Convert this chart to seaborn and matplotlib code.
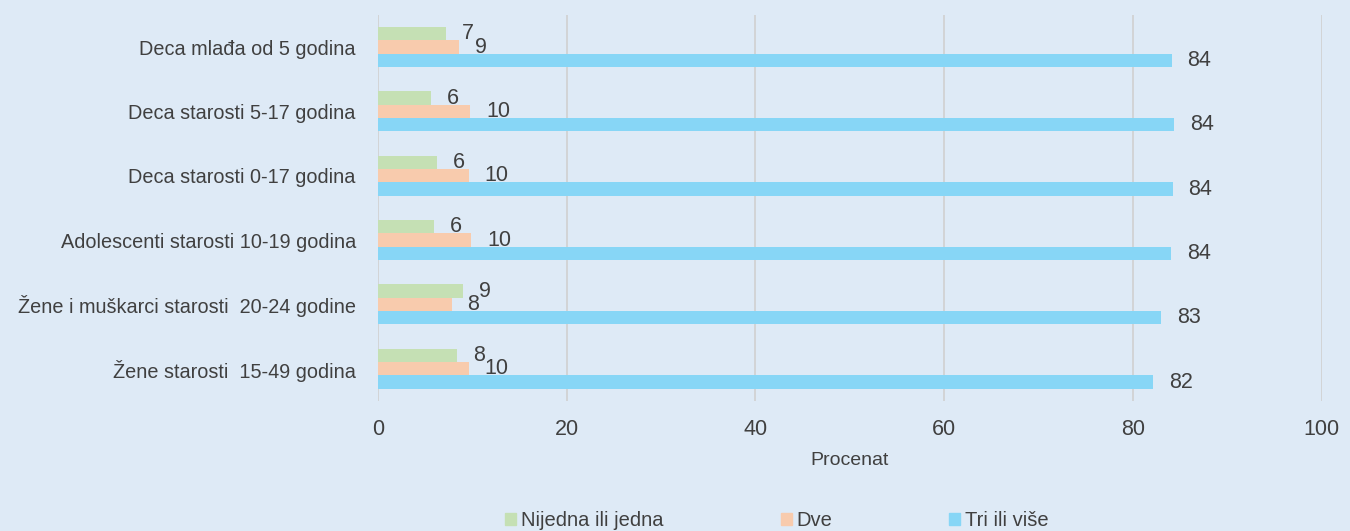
import pandas as pd
import matplotlib.pyplot as plt
import seaborn as sns

categories = [
    "Deca mlađa od 5 godina",
    "Deca starosti 5-17 godina",
    "Deca starosti 0-17 godina",
    "Adolescenti starosti 10-19 godina",
    "Žene i muškarci starosti  20-24 godine",
    "Žene starosti  15-49 godina",
]
series = ["Nijedna ili jedna", "Dve", "Tri ili više"]
nijedna = [7.2, 5.6, 6.25, 5.9, 9.0, 8.4]
dve = [8.6, 9.8, 9.6, 9.85, 7.8, 9.6]
tri = [84.1, 84.4, 84.2, 84.05, 83.0, 82.1]
colors = ["#C5E0B4", "#F8CBAD", "#87D6F6"]

bg = "#DEEAF6"
txt = "#404040"

df = pd.DataFrame({
    "kategorija": categories * 3,
    "grupa": [s for s in series for _ in categories],
    "procenat": nijedna + dve + tri,
})

sns.set_theme(style="white")
plt.rcParams['font.family'] = ['Liberation Sans', 'DejaVu Sans']

fig = plt.figure(figsize=(13.5, 5.31), dpi=100, facecolor=bg)
ax = fig.add_axes([0.28, 0.245, 0.699, 0.727])
ax.set_facecolor(bg)

sns.barplot(data=df, y="kategorija", x="procenat", hue="grupa",
            order=categories, hue_order=series, palette=colors,
            orient="h", width=0.62, gap=0, saturation=1, linewidth=0,
            ax=ax, legend=False)

for cont in ax.containers:
    ax.bar_label(cont, fmt="%.0f", padding=11.5, fontsize=15.5, color=txt)

ax.set_xlim(0, 100)
ax.set_xticks(range(0, 101, 20))
ax.grid(axis="x", color="#D0D0D0", linewidth=1.2)
ax.set_axisbelow(True)
for s in ax.spines.values():
    s.set_visible(False)
ax.tick_params(axis="x", labelsize=15.5, colors=txt, length=0, pad=13)
ax.tick_params(axis="y", labelsize=14.3, colors=txt, length=0, pad=16)
ax.set_ylabel("")
ax.set_xlabel("Procenat", fontsize=14, color=txt, labelpad=9)

handles = [plt.Rectangle((0, 0), 1, 1, color=c) for c in colors]
fig.legend(handles, series, loc="center", bbox_to_anchor=(0.5756, 0.019),
           ncol=3, frameon=False, fontsize=14.5, labelcolor=txt,
           handlelength=0.55, handleheight=0.55, handletextpad=0.25,
           columnspacing=5.8)

fig.savefig("out.png", dpi=100, facecolor=bg)
